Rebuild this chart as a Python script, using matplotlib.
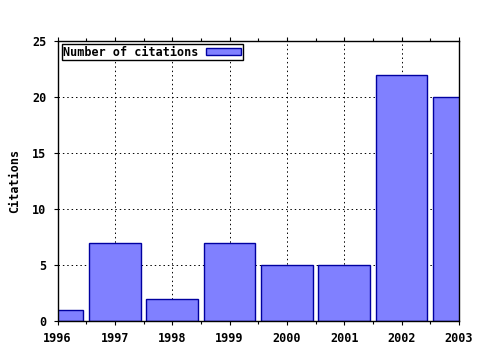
import matplotlib
matplotlib.use("Agg")
import matplotlib.pyplot as plt
from matplotlib.ticker import MultipleLocator

years = [1996, 1997, 1998, 1999, 2000, 2001, 2002, 2003]
citations = [1, 7, 2, 7, 5, 5, 22, 20]

plt.rcParams['font.family'] = 'DejaVu Sans Mono'
plt.rcParams['font.weight'] = 'bold'
plt.rcParams['axes.labelweight'] = 'bold'
plt.rcParams['font.size'] = 8.5

fig = plt.figure(figsize=(4.8, 3.5), dpi=100)
ax = fig.add_axes([57.5 / 480, 29 / 350, (459 - 57.5) / 480, (321 - 41) / 350])

ax.bar(years, citations, width=0.9, color='#8080ff', edgecolor='#0000a0',
       linewidth=1.0, label='Number of citations', zorder=2)

ax.set_xlim(1996, 2003)
ax.set_ylim(0, 25)
ax.set_xticks(years)
ax.set_xticklabels([str(y) for y in years])
ax.set_yticks(range(0, 26, 5))
ax.xaxis.set_minor_locator(MultipleLocator(0.5))
ax.tick_params(which='both', direction='out', top=True, right=False, width=0.8)
ax.tick_params(which='major', length=3, pad=5)
ax.tick_params(which='minor', length=2)
ax.grid(True, which='major', linestyle=(0, (1.5, 3)), color='black', linewidth=0.7, zorder=1)
for s in ax.spines.values():
    s.set_linewidth(1.0)

ax.set_ylabel('Citations', labelpad=8)

leg = ax.legend(loc='upper left', bbox_to_anchor=(0.01, 0.99), fancybox=False,
                edgecolor='black', framealpha=1, borderpad=0.15, handlelength=3,
                handleheight=0.6, borderaxespad=0, markerfirst=False, handletextpad=0.6)
leg.get_frame().set_linewidth(1.0)

fig.savefig('out.png', dpi=100)
